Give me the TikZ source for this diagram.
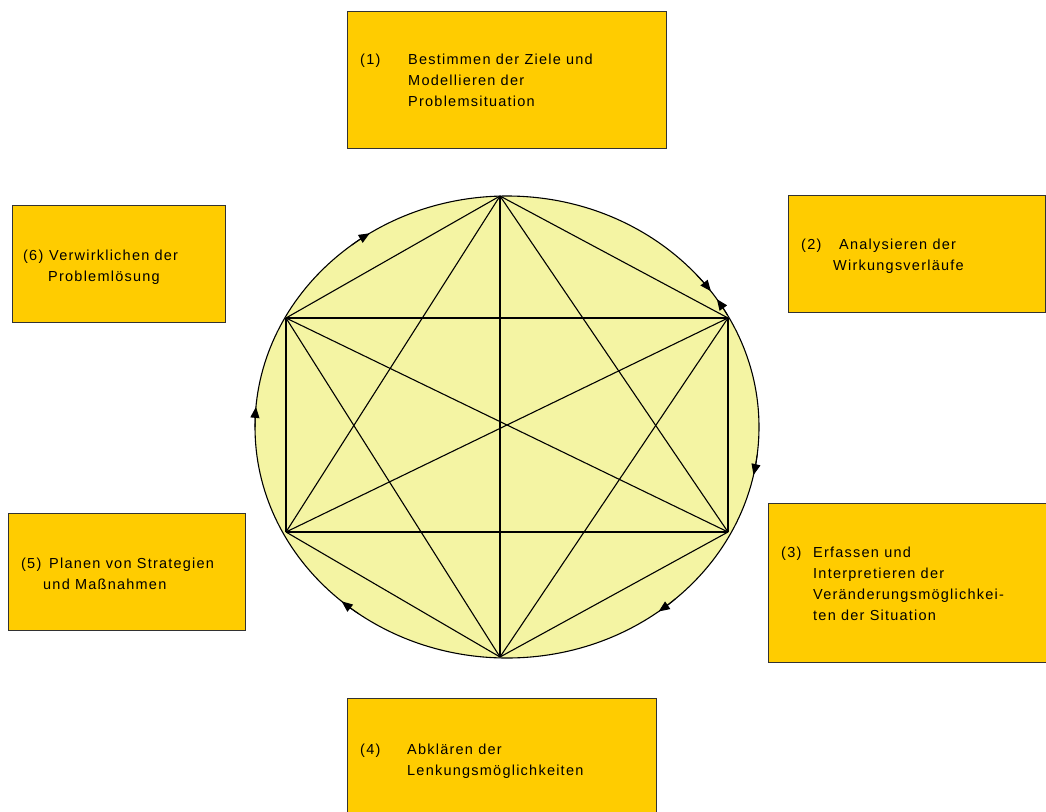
\documentclass[tikz,border=0pt]{standalone}
\usepackage{fontspec}
\setmainfont{Liberation Sans}[LetterSpace=8.5]
\usetikzlibrary{arrows.meta}
\definecolor{boxgold}{RGB}{255,204,0}
\definecolor{boxedge}{RGB}{50,50,50}
\definecolor{wheelfill}{RGB}{244,244,163}
\begin{document}
\begin{tikzpicture}[x=1pt,y=-1pt,
  stepbox/.style={draw=boxedge,line width=1.2pt,fill=boxgold,rectangle,inner sep=0pt,anchor=north west},
  label/.style={anchor=base west,inner sep=0pt,font=\fontsize{14.5}{21}\selectfont},
  chord/.style={line width=1.1pt,black},
  flowtip/.style={-{Triangle[length=11pt,width=9pt]},line width=1pt}]
\useasboundingbox (0,0) rectangle (1046,811);

% yellow boxes
\node[stepbox,minimum width=319pt,minimum height=137pt] (b1) at (347,11) {};
\node[stepbox,minimum width=257pt,minimum height=117pt] (b2) at (788,195) {};
\node[stepbox,minimum width=290pt,minimum height=159pt] (b3) at (768,503) {};
\node[stepbox,minimum width=309pt,minimum height=120pt] (b4) at (347,698) {};
\node[stepbox,minimum width=237pt,minimum height=117pt] (b5) at (8,513) {};
\node[stepbox,minimum width=213pt,minimum height=117pt] (b6) at (12,205) {};

% circle with the complete graph of the six steps
\coordinate (c) at (507,427);
\draw[fill=wheelfill,line width=1.1pt] (c) ellipse [x radius=252pt,y radius=231pt];
\coordinate (v1) at (500,196);
\coordinate (v2) at (728,318);
\coordinate (v3) at (728,532);
\coordinate (v4) at (500,657);
\coordinate (v5) at (286,532);
\coordinate (v6) at (286,318);
\foreach \a/\b in {v1/v2,v1/v3,v1/v4,v1/v5,v1/v6,v2/v3,v2/v4,v2/v5,v2/v6,v3/v4,v3/v5,v3/v6,v4/v5,v4/v6,v5/v6}
  \draw[chord] (\a) -- (\b);

% arrowheads running clockwise along the rim
\foreach \t in {123,36,-12,-53,229,175}
  \draw[flowtip] ([shift={(\t+5:252pt and 231pt)}]c) arc[start angle=\t+5,end angle=\t,x radius=252pt,y radius=231pt];
\draw[flowtip] ([shift={(29:252pt and 231pt)}]c) arc[start angle=29,end angle=33.6,x radius=252pt,y radius=231pt];

% texts
\node[label] (n1) at (360,64) {(1)};
\node[label] (t1a) at (408,64) {Bestimmen der Ziele und};
\node[label] (t1b) at (408,85) {Modellieren der};
\node[label] (t1c) at (408,106) {Problemsituation};

\node[label] (n2) at (801,249) {(2)};
\node[label] (t2a) at (839,249) {Analysieren der};
\node[label] (t2b) at (833,270) {Wirkungsverläufe};

\node[label] (n3) at (781,557) {(3)};
\node[label] (t3a) at (813,557) {Erfassen und};
\node[label] (t3b) at (813,578) {Interpretieren der};
\node[label] (t3c) at (813,599) {Veränderungsmöglichkei-};
\node[label] (t3d) at (813,620) {ten der Situation};

\node[label] (n4) at (360,754) {(4)};
\node[label] (t4a) at (407,754) {Abklären der};
\node[label] (t4b) at (407,775) {Lenkungsmöglichkeiten};

\node[label] (n5) at (21,568) {(5)};
\node[label] (t5a) at (49,568) {Planen von Strategien};
\node[label] (t5b) at (43,589) {und Maßnahmen};

\node[label] (n6) at (23,260) {(6)};
\node[label] (t6a) at (49,260) {Verwirklichen der};
\node[label] (t6b) at (48,281) {Problemlösung};
\end{tikzpicture}
\end{document}
